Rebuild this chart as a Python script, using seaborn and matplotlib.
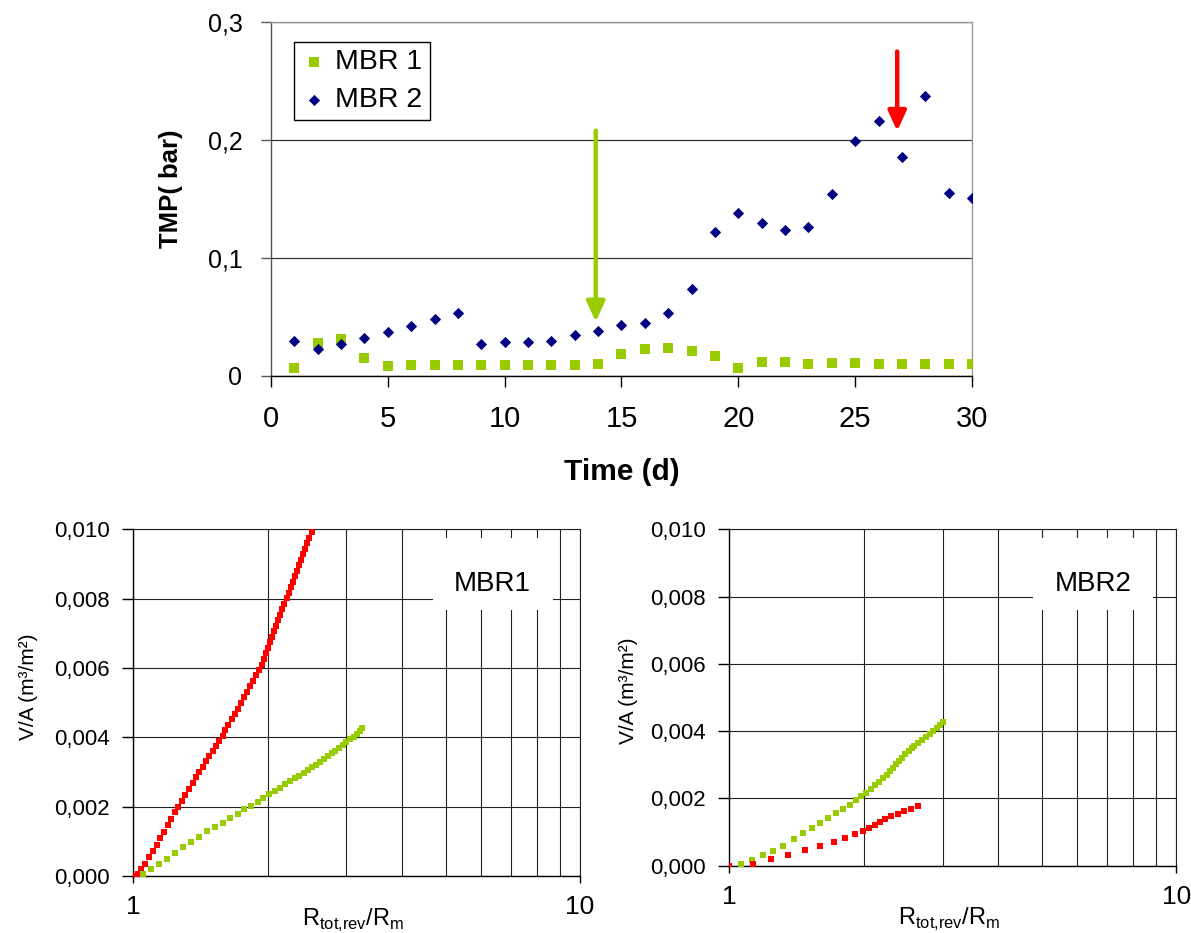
import matplotlib
matplotlib.use("Agg")
import matplotlib.pyplot as plt
import seaborn as sns
import pandas as pd
from matplotlib.ticker import FixedLocator, FixedFormatter, NullFormatter
from matplotlib.patches import Rectangle

# ---------------- data ----------------
days = list(range(1, 31))
mbr1_tmp = [0.0068, 0.028, 0.031, 0.0153, 0.0085, 0.009, 0.009, 0.009, 0.0096, 0.0096,
            0.0096, 0.009, 0.0096, 0.0105, 0.019, 0.0227, 0.0238, 0.0215, 0.017, 0.0068,
            0.0116, 0.0119, 0.0105, 0.011, 0.011, 0.0105, 0.0105, 0.0099, 0.0099, 0.0105]
mbr2_tmp = [0.0295, 0.0232, 0.0275, 0.0323, 0.0374, 0.0425, 0.048, 0.053, 0.0269, 0.0289,
            0.0289, 0.0297, 0.0346, 0.0382, 0.043, 0.0445, 0.0535, 0.0734, 0.1218, 0.1385,
            0.1295, 0.1238, 0.1266, 0.154, 0.1989, 0.2164, 0.1853, 0.237, 0.155, 0.1507]
series_labels = ["MBR 1", "MBR 2"]
green_arrow_day, green_arrow_from, green_arrow_to = 13.9, 0.208, 0.046
red_arrow_day, red_arrow_from, red_arrow_to = 26.8, 0.275, 0.2076

# MBR1 panel
mbr1_red_r = [1.000, 1.023, 1.040, 1.062, 1.082, 1.105, 1.128, 1.149, 1.169, 1.194,
              1.216, 1.240, 1.261, 1.285, 1.307, 1.330, 1.358, 1.380, 1.405, 1.430,
              1.454, 1.479, 1.505, 1.531, 1.557, 1.585, 1.606, 1.626,
              1.663, 1.689, 1.715, 1.741, 1.768, 1.795, 1.824, 1.852, 1.881, 1.910,
              1.939, 1.961, 1.983, 2.001, 2.023, 2.045, 2.066, 2.089, 2.111, 2.134,
              2.157, 2.180, 2.204, 2.228, 2.252, 2.275, 2.300, 2.325, 2.350, 2.375,
              2.401, 2.427, 2.453, 2.480, 2.506]
mbr1_red_va = [0.0, 0.000066, 0.000202, 0.000355, 0.00054, 0.00072, 0.0009, 0.00109, 0.00127, 0.00146,
               0.00165, 0.00184, 0.002, 0.00217, 0.00234, 0.0025, 0.00269, 0.00286, 0.003, 0.00315,
               0.00331, 0.00346, 0.0036, 0.00376, 0.0039, 0.00405, 0.00421, 0.00436,
               0.00452, 0.00468, 0.00483, 0.00499, 0.00515, 0.00531, 0.00547, 0.00563, 0.00579, 0.00595,
               0.0061, 0.00626, 0.00642, 0.00658, 0.00674, 0.0069, 0.00706, 0.00722, 0.00737, 0.00753,
               0.00769, 0.00785, 0.00801, 0.00817, 0.00833, 0.00849, 0.00864, 0.0088, 0.00896, 0.00912,
               0.00928, 0.00944, 0.0096, 0.00976, 0.00991]
mbr1_green_r = [1.049, 1.095, 1.144, 1.191, 1.242, 1.294, 1.348, 1.403, 1.462, 1.521,
                1.585, 1.643, 1.712, 1.771, 1.837, 1.898, 1.948, 2.009, 2.072, 2.133,
                2.188, 2.241, 2.296, 2.351, 2.405, 2.459, 2.510, 2.563, 2.617, 2.671,
                2.727, 2.779, 2.831, 2.885, 2.941, 2.996, 3.053, 3.112, 3.170, 3.212, 3.245]
mbr1_green_va = [0.000058, 0.00021, 0.000337, 0.0005, 0.000664, 0.000837, 0.00099, 0.001134, 0.00129, 0.001423,
                 0.001538, 0.001665, 0.001789, 0.001925, 0.002029, 0.002144, 0.002242, 0.002358, 0.002453, 0.002548,
                 0.002646, 0.002733, 0.00282, 0.002895, 0.002973, 0.003059, 0.003137, 0.003212, 0.003299, 0.003385,
                 0.003463, 0.00354, 0.003616, 0.003703, 0.00378, 0.003859, 0.003945, 0.00402, 0.004098, 0.00418, 0.00426]

# MBR2 panel
mbr2_green_r = [1.064, 1.124, 1.191, 1.251, 1.318, 1.395, 1.462, 1.529, 1.598, 1.665,
                1.730, 1.793, 1.859, 1.918, 1.974, 2.025, 2.072, 2.118, 2.166, 2.211,
                2.250, 2.288, 2.327, 2.363, 2.401, 2.438, 2.476, 2.520, 2.559, 2.594,
                2.639, 2.703, 2.754, 2.812, 2.860, 2.911, 2.965, 3.011]
mbr2_green_va = [0.00006, 0.00017, 0.000318, 0.000437, 0.000595, 0.000786, 0.000964, 0.001122, 0.00128, 0.00142,
                 0.00156, 0.001688, 0.001815, 0.001946, 0.002074, 0.002173, 0.002274, 0.002393, 0.0025, 0.00261,
                 0.002708, 0.00281, 0.002908, 0.003018, 0.003116, 0.003214, 0.003315, 0.003414, 0.003494, 0.003571,
                 0.003652, 0.003741, 0.00383, 0.003929, 0.004009, 0.004098, 0.004179, 0.004268]
mbr2_red_r = [1.000, 1.130, 1.242, 1.353, 1.477, 1.593, 1.712, 1.818, 1.911, 1.991,
              2.053, 2.115, 2.174, 2.234, 2.296, 2.381, 2.464, 2.550, 2.639]
mbr2_red_va = [0.0, 0.00006, 0.00019, 0.000318, 0.000458, 0.000595, 0.000714, 0.000824, 0.000935, 0.001024,
               0.001131, 0.00122, 0.0013, 0.00139, 0.001479, 0.001548, 0.001628, 0.001688, 0.001768]

top_xticks = [0, 5, 10, 15, 20, 25, 30]
top_yticks = [0, 0.1, 0.2, 0.3]
top_ylabels = ["0", "0,1", "0,2", "0,3"]
bot_yticks = [0, 0.002, 0.004, 0.006, 0.008, 0.010]
bot_ylabels = ["0,000", "0,002", "0,004", "0,006", "0,008", "0,010"]
bot_xmajor = [1, 10]
bot_xminor = [2, 3, 4, 5, 6, 7, 8, 9]

GREEN = "#99CC00"
NAVY = "#000080"
RED = "#FF0000"
GRID = "#222222"

# ---------------- style ----------------
sns.set_style("white")
plt.rcParams["font.family"] = ["Liberation Sans", "DejaVu Sans"]
plt.rcParams["mathtext.fontset"] = "custom"
plt.rcParams["mathtext.rm"] = "Liberation Sans"
for k in ["text.color", "axes.labelcolor", "xtick.color", "ytick.color"]:
    plt.rcParams[k] = "black"

fig = plt.figure(figsize=(11.91, 9.33), dpi=100)
ax_top = fig.add_axes([0.2275, 0.597, 0.5886, 0.3794])
ax_l = fig.add_axes([0.1119, 0.0611, 0.3751, 0.3716])
ax_r = fig.add_axes([0.6123, 0.0721, 0.3753, 0.3606])

# ---------------- top panel ----------------
df_top = pd.DataFrame({"Day": days * 2, "TMP": mbr1_tmp + mbr2_tmp,
                       "Reactor": [series_labels[0]] * len(days) + [series_labels[1]] * len(days)})
sns.scatterplot(data=df_top[df_top.Reactor == series_labels[0]], x="Day", y="TMP", ax=ax_top,
                marker="s", s=48, color=GREEN, linewidth=0, label=series_labels[0], zorder=3)
sns.scatterplot(data=df_top[df_top.Reactor == series_labels[1]], x="Day", y="TMP", ax=ax_top,
                marker="D", s=33, color=NAVY, linewidth=0, label=series_labels[1], zorder=3)
ax_top.set_xlim(0, 30)
ax_top.set_ylim(0, 0.3)
ax_top.set_xticks(top_xticks)
ax_top.set_xticklabels([str(t) for t in top_xticks])
ax_top.set_yticks(top_yticks)
ax_top.set_yticklabels(top_ylabels)
ax_top.set_axisbelow(True)
ax_top.yaxis.grid(True, color="#333333", lw=0.9)
ax_top.xaxis.grid(False)
ax_top.tick_params(axis="x", bottom=True, direction="out", length=8, width=1, color="black",
                   pad=13, labelsize=21)
ax_top.tick_params(axis="y", left=True, direction="out", length=7.5, width=1, color="#555555",
                   pad=13, labelsize=18)
ax_top.spines["bottom"].set_color("black")
ax_top.spines["left"].set_color("#555555")
for s in ["top", "right"]:
    ax_top.spines[s].set_color("#999999")
for s in ax_top.spines.values():
    s.set_linewidth(1.0)

ax_top.annotate("", xy=(green_arrow_day, green_arrow_to), xytext=(green_arrow_day, green_arrow_from),
                arrowprops=dict(arrowstyle="-|>,head_length=1.2,head_width=0.55", lw=3.2,
                                color=GREEN, shrinkA=0, shrinkB=0, mutation_scale=10), zorder=4)
ax_top.annotate("", xy=(red_arrow_day, red_arrow_to), xytext=(red_arrow_day, red_arrow_from),
                arrowprops=dict(arrowstyle="-|>,head_length=1.2,head_width=0.55", lw=3.2,
                                color=RED, shrinkA=0, shrinkB=0, mutation_scale=10), zorder=4)

ax_top.set_ylabel("TMP( bar)", fontsize=18.5, fontweight="bold")
ax_top.yaxis.set_label_coords(-0.125, 0.53)
ax_top.set_xlabel("Time (d)", fontsize=21.5, fontweight="bold")
ax_top.xaxis.set_label_coords(0.5, -0.232)

leg = ax_top.legend(loc="upper left", bbox_to_anchor=(0.033, 0.943), borderaxespad=0,
                    frameon=True, fancybox=False, edgecolor="black", fontsize=20.5,
                    labelspacing=0.42, borderpad=0.25, handlelength=0.9, handletextpad=0.3,
                    framealpha=1)
leg.get_frame().set_linewidth(1.0)


# ---------------- bottom panels ----------------
def setup_bottom(ax, label, box, text_xy, xlabel_y, ylabel_x, ylabel_y):
    ax.set_xscale("log")
    ax.set_xlim(1, 10)
    ax.set_ylim(0, 0.010)
    ax.xaxis.set_major_locator(FixedLocator(bot_xmajor))
    ax.xaxis.set_major_formatter(FixedFormatter([str(v) for v in bot_xmajor]))
    ax.xaxis.set_minor_locator(FixedLocator(bot_xminor))
    ax.xaxis.set_minor_formatter(NullFormatter())
    ax.set_yticks(bot_yticks)
    ax.set_yticklabels(bot_ylabels)
    ax.set_axisbelow(True)
    ax.grid(True, which="both", axis="x", color=GRID, lw=0.8)
    ax.grid(True, which="major", axis="y", color=GRID, lw=0.8)
    ax.tick_params(axis="x", which="minor", length=0)
    ax.tick_params(axis="x", which="major", bottom=True, direction="out", length=5, width=1,
                   pad=9, labelsize=19)
    ax.tick_params(axis="y", left=True, direction="out", length=8, width=1, pad=9, labelsize=16)
    for s in ax.spines.values():
        s.set_color("black")
        s.set_linewidth(1.0)
    for s in ["top", "right"]:
        ax.spines[s].set_color(GRID)
        ax.spines[s].set_linewidth(0.8)
    ax.add_patch(Rectangle((box[0], box[1]), box[2], box[3], transform=ax.transAxes,
                           facecolor="white", edgecolor="none", zorder=2))
    ax.text(text_xy[0], text_xy[1], label, transform=ax.transAxes, ha="center", va="baseline",
            fontsize=20, zorder=3)
    ax.set_xlabel(r"R$_{\mathregular{tot{,}rev}}$/R$_{\mathregular{m}}$", fontsize=17)
    ax.xaxis.set_label_coords(0.493, xlabel_y)
    ax.set_ylabel("V/A (m³/m²)", fontsize=15)
    ax.yaxis.set_label_coords(ylabel_x, ylabel_y)


sns.scatterplot(x=mbr1_red_r, y=mbr1_red_va, ax=ax_l, marker="s", s=16, color=RED,
                linewidth=0, zorder=3)
sns.scatterplot(x=mbr1_green_r, y=mbr1_green_va, ax=ax_l, marker="s", s=14, color=GREEN,
                linewidth=0, zorder=3)
setup_bottom(ax_l, "MBR1", (0.671, 0.767, 0.2686, 0.2077), (0.804, 0.823), -0.088, -0.213, 0.545)

sns.scatterplot(x=mbr2_green_r, y=mbr2_green_va, ax=ax_r, marker="s", s=14, color=GREEN,
                linewidth=0, zorder=3)
sns.scatterplot(x=mbr2_red_r, y=mbr2_red_va, ax=ax_r, marker="s", s=16, color=RED,
                linewidth=0, zorder=3)
setup_bottom(ax_r, "MBR2", (0.679, 0.760, 0.2685, 0.214), (0.814, 0.8175), -0.118, -0.204, 0.519)

fig.savefig("out.png", dpi=100)
